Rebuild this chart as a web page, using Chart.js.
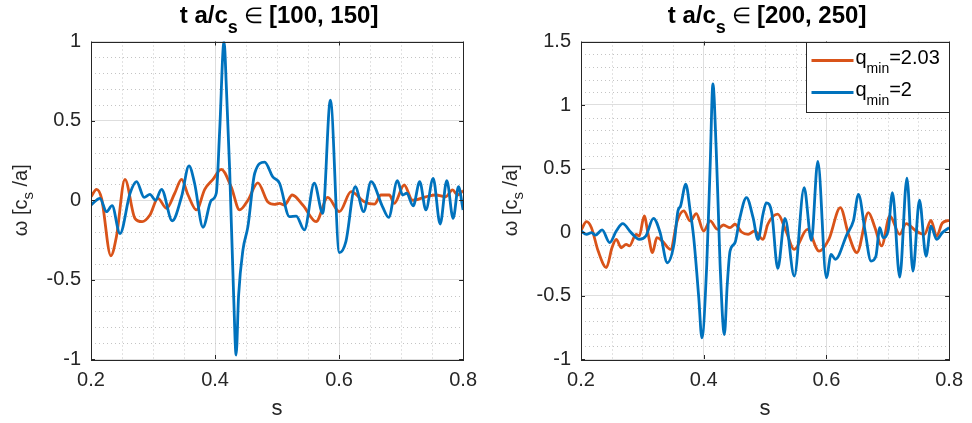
<!DOCTYPE html>
<html>
<head>
<meta charset="utf-8">
<script src="https://cdn.jsdelivr.net/npm/chart.js@4.4.1/dist/chart.umd.min.js"></script>
<style>
  html, body { margin: 0; padding: 0; background: #fff; }
  #wrap { position: relative; width: 972px; height: 423px; }
  canvas { position: absolute; top: 0; }
</style>
</head>
<body>
<div id="wrap">
  <canvas id="leftChart" width="486" height="423" style="left:0"></canvas>
  <canvas id="rightChart" width="486" height="423" style="left:486px"></canvas>
</div>
<script>
// values
const sLeftOrange = [0.200,0.209,0.217,0.232,0.241,0.2547,0.2708,0.2825,0.295,0.308,0.3218,0.335,0.346,0.3565,0.370,0.3834,0.3967,0.410,0.426,0.4396,0.453,0.469,0.485,0.496,0.504,0.512,0.5245,0.5415,0.563,0.5817,0.6005,0.6194,0.6407,0.657,0.6676,0.681,0.689,0.705,0.7185,0.740,0.756,0.772,0.783,0.791,0.800];
const wLeftOrange = [0.022,0.069,0.012,-0.35,-0.23,0.132,-0.114,-0.135,-0.093,0.012,-0.051,0.044,0.132,0.033,-0.061,0.069,0.132,0.195,0.084,-0.061,0.0,0.11,-0.01,-0.026,-0.02,-0.03,0.033,-0.03,-0.135,0.018,-0.072,0.054,-0.009,-0.024,0.033,0.033,-0.02,0.096,0.0,0.022,0.033,0.022,0.065,0.033,0.06];

const sLeftBlue = [0.200,0.2145,0.225,0.234,0.2467,0.263,0.2735,0.2857,0.295,0.304,0.3137,0.331,0.346,0.358,0.367,0.3806,0.394,0.402,0.4075,0.4145,0.4185,0.4236,0.430,0.434,0.438,0.445,0.453,0.464,0.480,0.493,0.504,0.520,0.531,0.544,0.560,0.5737,0.586,0.6005,0.611,0.626,0.6397,0.6515,0.670,0.680,0.694,0.7025,0.709,0.7195,0.730,0.740,0.7517,0.763,0.7737,0.784,0.7925,0.800];
const wLeftBlue = [-0.03,0.012,-0.072,-0.034,-0.21,0.044,0.117,0.018,0.037,0.0,0.069,-0.129,0.022,0.216,0.107,-0.17,0.0,0.044,0.44,1.0,0.69,0.19,-0.6,-0.975,-0.6,-0.313,-0.166,0.17,0.24,0.148,0.107,-0.103,-0.1,-0.187,0.107,-0.082,0.63,-0.33,-0.26,0.085,-0.072,0.117,-0.04,-0.108,0.123,0.033,0.044,-0.036,0.117,-0.061,0.138,-0.15,0.123,-0.114,0.085,-0.061];

const sRightOrange = [0.200,0.209,0.217,0.228,0.2414,0.2505,0.2575,0.2655,0.2736,0.279,0.2897,0.295,0.303,0.3095,0.3165,0.3236,0.3326,0.346,0.3568,0.3675,0.378,0.388,0.3998,0.4106,0.4224,0.432,0.4429,0.451,0.4616,0.4724,0.483,0.4966,0.5045,0.5207,0.534,0.5476,0.569,0.588,0.604,0.6227,0.636,0.6497,0.6685,0.6792,0.690,0.7034,0.7195,0.730,0.746,0.7597,0.7705,0.7796,0.789,0.800];
const wRightOrange = [0.013,0.081,0.034,-0.15,-0.28,-0.124,-0.058,-0.124,-0.097,-0.11,-0.018,-0.032,0.126,-0.018,-0.163,-0.045,-0.071,-0.137,0.087,0.166,0.087,0.145,0.008,0.087,0.021,0.055,0.034,0.061,0.0,-0.018,0.008,-0.058,0.061,0.14,0.008,-0.137,0.021,-0.15,-0.058,0.192,-0.018,-0.163,0.153,0.034,-0.11,0.126,-0.018,0.066,0.008,-0.018,0.092,-0.032,0.071,0.092];

const sRightBlue = [0.200,0.209,0.217,0.2237,0.2344,0.2467,0.2575,0.268,0.2817,0.295,0.3057,0.318,0.329,0.3407,0.3515,0.358,0.3623,0.3708,0.378,0.3837,0.392,0.397,0.405,0.4106,0.415,0.4203,0.424,0.4267,0.4337,0.4384,0.443,0.451,0.459,0.4697,0.4805,0.4885,0.4966,0.502,0.511,0.5207,0.5325,0.5476,0.5637,0.5755,0.586,0.600,0.6077,0.6146,0.6335,0.644,0.6523,0.663,0.6727,0.6807,0.687,0.6926,0.7006,0.7077,0.7195,0.7313,0.741,0.7517,0.7624,0.7705,0.7796,0.789,0.800];
const wRightBlue = [0.008,-0.018,-0.005,-0.024,0.016,-0.084,0.008,0.066,-0.005,-0.058,-0.032,0.108,-0.005,-0.242,-0.097,0.166,0.205,0.376,0.166,-0.045,-0.52,-0.834,-0.255,0.534,1.166,0.66,0.14,-0.255,-0.807,-0.413,-0.15,-0.084,0.113,0.271,0.113,-0.06,0.14,0.23,0.15,-0.287,0.108,-0.347,0.35,-0.066,0.555,-0.36,-0.176,-0.215,-0.018,0.087,0.297,0.008,-0.229,-0.19,0.034,-0.045,0.008,0.31,-0.355,0.424,-0.308,0.25,-0.19,0.047,-0.058,-0.005,0.034];

const xTicks = [0.2, 0.4, 0.6, 0.8];
const xMinor = 0.05;
const yMinor = 0.1;

const ORANGE = '#D95319';
const BLUE = '#0072BD';
const AXIS = '#262626';
const FONT = '"Liberation Sans", Arial, Helvetica, sans-serif';

function pts(s, w) {
  return s.map((x, i) => ({ x: x, y: w[i] }));
}

// draws text pieces, some as subscripts, around x
function drawParts(ctx, parts, x, y, align) {
  let total = 0;
  parts.forEach(p => { ctx.font = p.f; total += ctx.measureText(p.t).width; });
  let cx = align === 'left' ? x : x - total / 2;
  ctx.textAlign = 'left';
  ctx.textBaseline = 'alphabetic';
  parts.forEach(p => {
    ctx.font = p.f;
    ctx.fillText(p.t, cx, y + (p.dy || 0));
    cx += ctx.measureText(p.t).width;
  });
}

function makePanel(id, orange, blue, yMin, yMax, yTicks, range, yAxisW, padRight, showLegend) {
  const panelPlugin = {
    id: 'matlabLook' + id,
    beforeDatasetsDraw(chart) {
      const { ctx, chartArea: a, scales: { x, y } } = chart;
      ctx.save();
      ctx.strokeStyle = '#c4c4c4';
      ctx.lineWidth = 1;
      ctx.setLineDash([1, 3]);
      ctx.beginPath();
      for (let k = 1; k < 12; k++) {
        if (k % 4 === 0) continue;
        const px = Math.round(x.getPixelForValue(0.2 + k * xMinor)) + 0.5;
        ctx.moveTo(px, a.top); ctx.lineTo(px, a.bottom);
      }
      const n = Math.round((yMax - yMin) / yMinor);
      for (let k = 1; k < n; k++) {
        if (k % 5 === 0) continue;
        const py = Math.round(y.getPixelForValue(yMin + k * yMinor)) + 0.5;
        ctx.moveTo(a.left, py); ctx.lineTo(a.right, py);
      }
      ctx.stroke();
      ctx.restore();
    },
    afterDatasetsDraw(chart) {
      const { ctx, chartArea: a, scales: { x, y } } = chart;
      ctx.save();
      ctx.strokeStyle = AXIS;
      ctx.lineWidth = 1;
      ctx.strokeRect(Math.round(a.left) + 0.5, Math.round(a.top) + 0.5, Math.round(a.right - a.left), Math.round(a.bottom - a.top));
      ctx.beginPath();
      xTicks.forEach(v => {
        const px = Math.round(x.getPixelForValue(v)) + 0.5;
        ctx.moveTo(px, a.bottom); ctx.lineTo(px, a.bottom - 4);
        ctx.moveTo(px, a.top); ctx.lineTo(px, a.top + 4);
      });
      yTicks.forEach(v => {
        const py = Math.round(y.getPixelForValue(v)) + 0.5;
        ctx.moveTo(a.left, py); ctx.lineTo(a.left + 4, py);
        ctx.moveTo(a.right, py); ctx.lineTo(a.right - 4, py);
      });
      ctx.stroke();

      if (showLegend) {
        const bw = 143, bh = 70;
        const bx = Math.round(a.right) - bw + 0.5, by = Math.round(a.top) + 0.5;
        ctx.fillStyle = '#fff';
        ctx.fillRect(bx, by, bw, bh);
        ctx.strokeRect(bx, by, bw, bh);
        const rows = [
          { c: ORANGE, v: '=2.03', y: by + 18 },
          { c: BLUE, v: '=2', y: by + 50 }
        ];
        rows.forEach(r => {
          ctx.strokeStyle = r.c;
          ctx.lineWidth = 2.8;
          ctx.beginPath();
          ctx.moveTo(bx + 5, r.y); ctx.lineTo(bx + 47, r.y);
          ctx.stroke();
          ctx.fillStyle = '#000';
          drawParts(ctx, [
            { t: 'q', f: '20px ' + FONT },
            { t: 'min', f: '14px ' + FONT, dy: 9 },
            { t: r.v, f: '20px ' + FONT }
          ], bx + 49, r.y + 3, 'left');
        });
      }
      ctx.restore();
    },
    afterDraw(chart) {
      const { ctx, chartArea: a } = chart;
      const mid = (a.left + a.right) / 2;
      ctx.save();
      ctx.fillStyle = '#000';
      drawParts(ctx, [
        { t: 't a/c', f: 'bold 24px ' + FONT },
        { t: 's', f: 'bold 18px ' + FONT, dy: 10 },
        { t: ' \u2208 ', f: '22px ' + FONT },
        { t: range, f: 'bold 24px ' + FONT }
      ], mid + 2, 23, 'center');

      ctx.fillStyle = AXIS;
      drawParts(ctx, [{ t: 's', f: '22px ' + FONT }], mid, 415, 'center');

      ctx.translate(a.left - 64, (a.top + a.bottom) / 2);
      ctx.rotate(-Math.PI / 2);
      drawParts(ctx, [
        { t: '\u03C9 [c', f: '20px ' + FONT },
        { t: 's', f: '15px ' + FONT, dy: 6 },
        { t: ' /a]', f: '20px ' + FONT }
      ], 0, 0, 'center');
      ctx.restore();
    }
  };

  return new Chart(document.getElementById(id).getContext('2d'), {
    type: 'line',
    data: {
      datasets: [
        { label: 'q_min=2.03', data: orange, borderColor: ORANGE, borderWidth: 2.8, pointRadius: 0, cubicInterpolationMode: 'monotone', order: 2 },
        { label: 'q_min=2', data: blue, borderColor: BLUE, borderWidth: 2.8, pointRadius: 0, cubicInterpolationMode: 'monotone', order: 1 }
      ]
    },
    options: {
      responsive: false,
      animation: false,
      layout: { padding: { top: 41.5, right: padRight, left: 0, bottom: 0 } },
      plugins: { legend: { display: false }, tooltip: { enabled: false }, title: { display: false } },
      scales: {
        x: {
          type: 'linear', min: 0.2, max: 0.8,
          afterBuildTicks: s => { s.ticks = xTicks.map(v => ({ value: v })); },
          afterFit: s => { s.height = 64; },
          grid: { color: '#dedede', drawTicks: false },
          border: { display: false },
          ticks: { color: AXIS, padding: 9, font: { family: FONT, size: 20 }, callback: v => String(+v.toFixed(2)) }
        },
        y: {
          type: 'linear', min: yMin, max: yMax,
          afterBuildTicks: s => { s.ticks = yTicks.map(v => ({ value: v })); },
          afterFit: s => { s.width = yAxisW; },
          grid: { color: '#dedede', drawTicks: false },
          border: { display: false },
          ticks: { color: AXIS, padding: 10, font: { family: FONT, size: 20 }, callback: v => String(+v.toFixed(2)) }
        }
      }
    },
    plugins: [panelPlugin]
  });
}

makePanel('leftChart', pts(sLeftOrange, wLeftOrange), pts(sLeftBlue, wLeftBlue),
  -1, 1, [-1, -0.5, 0, 0.5, 1], '[100, 150]', 91, 22, false);
makePanel('rightChart', pts(sRightOrange, wRightOrange), pts(sRightBlue, wRightBlue),
  -1, 1.5, [-1, -0.5, 0, 0.5, 1, 1.5], '[200, 250]', 95, 18.7, true);
</script>
</body>
</html>
